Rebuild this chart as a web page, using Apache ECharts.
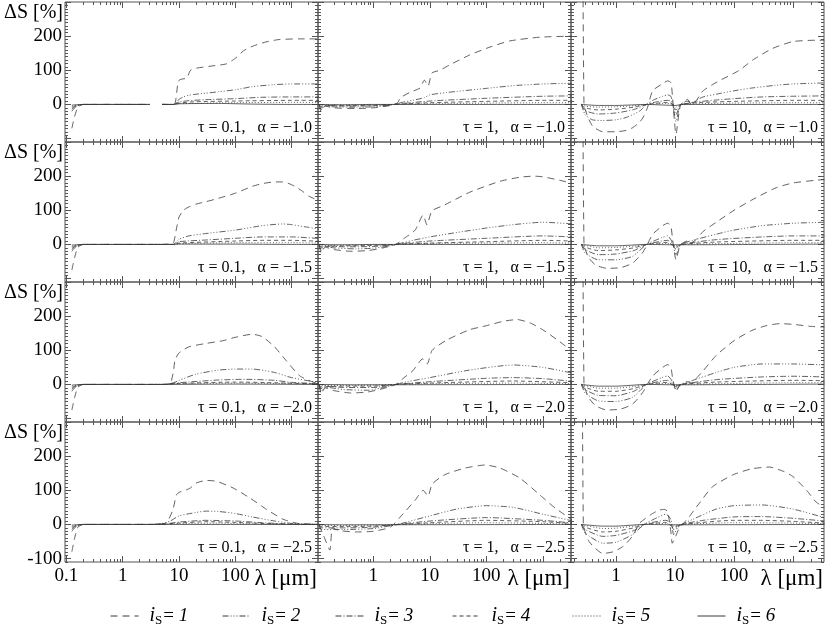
<!DOCTYPE html>
<html>
<head>
<meta charset="utf-8">
<title>Delta S panels</title>
<script src="https://cdn.jsdelivr.net/npm/echarts@6/dist/echarts.min.js"></script>
<style>
  html, body { margin: 0; padding: 0; background: #fff; }
  #chart { width: 830px; height: 625px; }
</style>
</head>
<body>
<div id="chart"></div>
<script>
// ---- data: [lambda (um), delta S (%)] per curve i_S = 1..6 ----
// tau = 0.1
var t01a10 = [
  [[0.125,-70],[0.14,-35],[0.16,-8],[0.2,0],[1,0],[3,0],[4,null],[5,0],[7,0],[8.5,3],[9.7,68],[11,74],[13.7,77],[16,100],[20,106],[40,113],[70,119],[100,135],[140,157],[200,170],[350,183],[600,190],[1400,192],[3400,192]],
  [[0.125,-20],[0.14,-10],[0.17,-2],[0.2,0],[3,0],[4,null],[5,0],[8,0],[9,5],[10,15],[12,22],[15,27],[20,30],[30,33],[50,37],[100,43],[200,52],[500,58],[1000,60],[3400,60]],
  [[0.125,-14],[0.14,-7],[0.17,-2],[0.2,0],[3,0],[4,null],[5,0],[8,0],[10,7],[15,11],[30,14],[100,17],[300,21],[1000,22],[3400,22]],
  [[0.125,-9],[0.15,-3],[0.2,0],[3,0],[4,null],[5,0],[8,0],[10,4],[20,8],[100,10],[1000,12],[3400,12]],
  [[0.125,-5],[0.15,-2],[0.2,0],[3,0],[4,null],[5,0],[8,0],[10,2],[100,5],[1000,6],[3400,6]],
  [[0.125,-2],[0.15,-1],[0.2,0],[3,0],[4,null],[5,0],[8,0],[10,2],[50,3],[200,1],[1000,0],[3400,0]]
];
var t01a15 = [
  [[0.125,-75],[0.14,-38],[0.16,-8],[0.2,0],[1,0],[5,0],[7,2],[8,5],[9,45],[10,80],[12,100],[15,110],[20,118],[30,125],[50,135],[100,150],[200,170],[300,178],[500,183],[700,183],[1000,175],[1500,158],[2000,142],[3400,125]],
  [[0.125,-20],[0.14,-10],[0.17,-2],[0.2,0],[8,0],[10,15],[15,25],[30,32],[100,42],[300,55],[700,60],[1000,58],[2000,50],[3400,43]],
  [[0.125,-14],[0.14,-7],[0.17,-2],[0.2,0],[8,0],[10,8],[30,13],[100,18],[300,22],[1000,22],[3400,17]],
  [[0.125,-9],[0.15,-3],[0.2,0],[8,0],[10,4],[100,10],[300,12],[1000,12],[3400,9]],
  [[0.125,-5],[0.15,-2],[0.2,0],[8,0],[10,2],[100,5],[1000,5],[3400,4]],
  [[0.125,-2],[0.15,-1],[0.2,0],[8,0],[10,1],[100,1],[1000,0],[3400,0]]
];
var t01a20 = [
  [[0.125,-75],[0.14,-38],[0.16,-8],[0.2,0],[1,0],[5,0],[7,3],[8,40],[8.5,71],[10,92],[15,110],[30,120],[60,128],[100,138],[200,147],[300,140],[500,110],[800,70],[1400,25],[2500,6],[3400,3]],
  [[0.125,-20],[0.14,-10],[0.17,-2],[0.2,0],[5,0],[8,5],[10,12],[20,30],[50,42],[100,45],[200,45],[500,35],[1000,20],[3400,4]],
  [[0.125,-14],[0.14,-7],[0.17,-2],[0.2,0],[5,0],[10,5],[50,13],[150,15],[500,12],[1000,6],[3400,2]],
  [[0.125,-9],[0.15,-3],[0.2,0],[5,0],[10,3],[100,7],[500,5],[3400,1]],
  [[0.125,-5],[0.15,-2],[0.2,0],[5,0],[10,2],[100,4],[500,3],[3400,1]],
  [[0.125,-2],[0.15,-1],[0.2,0],[5,0],[100,1],[3400,0]]
];
var t01a25 = [
  [[0.125,-80],[0.14,-40],[0.16,-8],[0.2,0],[1,0],[4,0],[6,5],[7.8,43],[9.1,88],[11,97],[13,100],[16,107],[20,121],[31,129],[47,126],[91,107],[180,78],[360,44],[710,15],[1400,2],[3400,0]],
  [[0.125,-20],[0.14,-10],[0.17,-2],[0.2,0],[3,0],[5,3],[7,10],[10,25],[20,35],[30,39],[50,38],[100,32],[200,22],[500,10],[1000,3],[3400,0]],
  [[0.125,-14],[0.14,-7],[0.17,-2],[0.2,0],[4,0],[6,2],[10,7],[30,12],[100,10],[300,5],[1000,1],[3400,0]],
  [[0.125,-9],[0.15,-3],[0.2,0],[4,0],[10,4],[30,8],[100,6],[300,3],[1000,0],[3400,0]],
  [[0.125,-5],[0.15,-2],[0.2,0],[4,0],[10,2],[50,4],[300,1],[3400,0]],
  [[0.125,-2],[0.15,-1],[0.2,0],[3400,0]]
];
// tau = 1
var t1a10 = [
  [[0.11,-3],[0.12,-22],[0.14,-5],[0.2,-10],[0.5,-12],[1,-10],[2,-3],[2.7,5],[3,19],[4.5,36],[6.7,48],[8,71],[9.3,54],[10.9,92],[15,100],[22,115],[51,145],[116,168],[260,186],[890,197],[3400,200]],
  [[0.11,-2],[0.12,-15],[0.14,-4],[0.2,-7],[0.5,-8],[1,-7],[2,-2],[3,5],[5,12],[8,20],[10,28],[20,35],[100,47],[300,55],[1000,60],[3400,62]],
  [[0.11,-1],[0.12,-10],[0.14,-3],[0.3,-5],[1,-4],[2,-1],[3,2],[10,10],[100,18],[1000,24],[3400,25]],
  [[0.11,-1],[0.12,-6],[0.15,-2],[0.3,-3],[1,-2],[3,1],[10,5],[100,9],[1000,12],[3400,12]],
  [[0.11,0],[0.12,-3],[0.3,-1],[1,-1],[3,0],[10,2],[100,4],[1000,5],[3400,5]],
  [[0.11,0],[0.3,-1],[1,0],[3400,0]]
];
var t1a15 = [
  [[0.11,-3],[0.12,-25],[0.14,-8],[0.2,-15],[0.4,-20],[0.8,-18],[1.5,-10],[2.5,0],[3.6,19],[5.5,42],[7.6,86],[8.9,57],[10.9,98],[18,115],[51,153],[175,185],[400,197],[700,200],[1000,198],[2000,188],[3400,178]],
  [[0.11,-2],[0.12,-18],[0.14,-6],[0.2,-10],[0.5,-13],[1,-11],[2,-4],[3,3],[5,12],[10,22],[30,35],[100,48],[300,58],[1000,65],[3400,60]],
  [[0.11,-1],[0.12,-10],[0.14,-4],[0.3,-7],[1,-6],[2,-2],[3,2],[10,10],[100,18],[1000,25],[3400,22]],
  [[0.11,-1],[0.12,-6],[0.3,-4],[1,-3],[3,1],[10,4],[100,8],[1000,12],[3400,10]],
  [[0.11,0],[0.12,-3],[0.3,-2],[1,-1],[3,0],[10,3],[100,4],[1000,5],[3400,4]],
  [[0.11,0],[0.3,-1],[1,0],[3400,0]]
];
var t1a20 = [
  [[0.11,-3],[0.12,-28],[0.14,-10],[0.2,-18],[0.4,-25],[0.8,-22],[1.5,-12],[2.5,0],[3.5,20],[5,40],[7.5,75],[9,60],[11,100],[20,130],[50,160],[100,172],[200,185],[350,190],[600,180],[1000,160],[2000,125],[3400,95]],
  [[0.11,-2],[0.12,-20],[0.14,-8],[0.3,-15],[0.8,-17],[1.5,-9],[2.5,0],[4,8],[10,20],[50,42],[300,57],[1000,50],[3400,33]],
  [[0.11,-1],[0.12,-12],[0.14,-5],[0.3,-9],[1,-9],[2.5,0],[10,8],[100,18],[300,20],[1000,17],[3400,9]],
  [[0.11,-1],[0.12,-7],[0.3,-5],[1,-5],[2.5,0],[10,4],[300,10],[3400,5]],
  [[0.11,0],[0.12,-3],[0.3,-3],[1,-2],[2.5,0],[10,2],[300,4],[3400,2]],
  [[0.11,0],[0.5,-1],[3400,0]]
];
var t1a25 = [
  [[0.11,-3],[0.13,-30],[0.17,-75],[0.19,-10],[0.25,-18],[0.5,-22],[1,-20],[2,-8],[3,22],[5.5,71],[7.6,100],[9.3,83],[11,118],[18,145],[42,165],[95,174],[175,165],[390,136],[890,86],[1650,48],[3400,12]],
  [[0.11,-2],[0.12,-15],[0.3,-15],[1,-12],[2,-4],[3,2],[10,25],[30,45],[100,55],[300,50],[1000,30],[3400,10]],
  [[0.11,-1],[0.12,-10],[0.3,-10],[1,-8],[2,-2],[3,1],[10,10],[100,20],[1000,12],[3400,4]],
  [[0.11,-1],[0.12,-6],[0.3,-6],[1,-5],[3,0],[10,5],[100,12],[1000,8],[3400,3]],
  [[0.11,0],[0.12,-3],[0.3,-3],[1,-2],[3,0],[10,2],[100,5],[1000,3],[3400,1]],
  [[0.11,0],[0.3,-1],[3400,0]]
];
// tau = 10
var t10a10 = [
  [[0.26,1500],[0.287,0],[0.35,-45],[0.41,-65],[0.6,-80],[1,-80],[1.5,-76],[1.92,-68],[2.4,-55],[2.84,-40],[3.44,-8],[4.19,40],[6.2,61],[7.5,69],[8.55,64],[9.1,20],[10.4,-87],[11.8,-20],[12.6,0],[16.4,15],[18.7,0],[22.7,10],[29.5,39],[49.5,64],[123,100],[207,130],[450,164],[990,184],[2450,188],[3400,188]],
  [[0.26,0],[0.3,-30],[0.4,-45],[0.6,-47],[1,-45],[1.5,-38],[2.5,-20],[3.3,0],[4.2,12],[6.2,24],[7.5,28],[8.5,24],[9.1,5],[10.4,-50],[11.8,-10],[12.6,0],[16,10],[19,5],[23,12],[30,22],[50,30],[100,40],[200,48],[500,56],[1000,60],[3400,63]],
  [[0.26,0],[0.3,-18],[0.5,-28],[1,-25],[2,-15],[3.3,0],[5,8],[7.5,12],[8.5,10],[9.1,2],[10.4,-30],[12,-5],[13,0],[20,6],[50,13],[100,17],[300,22],[1000,24],[3400,25]],
  [[0.26,0],[0.3,-10],[0.5,-16],[1,-14],[2,-8],[3.3,0],[7.5,6],[9.1,1],[10.4,-16],[12.6,0],[30,6],[100,9],[1000,12],[3400,12]],
  [[0.26,0],[0.3,-5],[0.5,-8],[1,-7],[2,-4],[3.3,0],[7.5,3],[9.1,0],[10.4,-8],[12.6,0],[100,4],[1000,5],[3400,5]],
  [[0.26,0],[0.5,-3],[1,-3],[3.3,0],[10.4,-3],[12.6,0],[3400,0]]
];
var t10a15 = [
  [[0.26,1500],[0.287,0],[0.35,-40],[0.45,-60],[0.7,-70],[1.2,-68],[1.9,-55],[2.8,-25],[3.4,0],[4.2,30],[6.2,55],[7.5,62],[8.5,55],[9.1,15],[10.4,-45],[11.8,-10],[12.6,0],[16,10],[19,5],[23,15],[30,38],[50,65],[100,100],[200,130],[500,165],[1000,180],[2450,188],[3400,190]],
  [[0.26,0],[0.3,-25],[0.5,-45],[1,-45],[1.9,-35],[3.3,0],[6,20],[7.5,25],[9.1,5],[10.4,-30],[12.6,0],[20,12],[50,30],[100,42],[300,55],[1000,62],[3400,65]],
  [[0.26,0],[0.3,-15],[0.5,-30],[1,-28],[2,-18],[3.3,0],[7.5,12],[9.1,2],[10.4,-15],[12.6,0],[50,14],[300,22],[1000,25],[3400,25]],
  [[0.26,0],[0.3,-8],[0.5,-18],[1,-16],[2,-10],[3.3,0],[7.5,6],[10.4,-8],[12.6,0],[50,7],[1000,12],[3400,12]],
  [[0.26,0],[0.5,-10],[1,-9],[2,-5],[3.3,0],[7.5,3],[10.4,-4],[12.6,0],[1000,5],[3400,5]],
  [[0.26,0],[0.5,-4],[1,-4],[3.3,0],[10.4,-1],[3400,1]]
];
var t10a20 = [
  [[0.26,1500],[0.287,0],[0.35,-40],[0.45,-62],[0.7,-75],[1.2,-72],[1.9,-58],[2.8,-25],[3.4,0],[4.2,25],[6.2,50],[7.5,58],[8.5,50],[9.1,20],[10.4,-20],[11.8,-5],[12.6,0],[16,8],[19,5],[23,18],[30,40],[50,85],[100,128],[200,158],[350,172],[600,178],[1000,176],[2000,170],[3400,168]],
  [[0.26,0],[0.3,-25],[0.5,-48],[1,-50],[1.9,-38],[3.3,0],[6,20],[7.5,25],[9.1,8],[10.4,-15],[12.6,0],[20,12],[50,35],[100,50],[300,60],[1000,60],[3400,57]],
  [[0.26,0],[0.3,-15],[0.5,-32],[1,-33],[2,-20],[3.3,0],[7.5,12],[9.1,3],[10.4,-8],[12.6,0],[50,14],[300,22],[1000,24],[3400,22]],
  [[0.26,0],[0.3,-8],[0.5,-20],[1,-20],[2,-12],[3.3,0],[7.5,6],[10.4,-5],[12.6,0],[50,7],[1000,12],[3400,11]],
  [[0.26,0],[0.5,-11],[1,-11],[2,-6],[3.3,0],[7.5,3],[10.4,-3],[12.6,0],[1000,5],[3400,5]],
  [[0.26,0],[0.5,-5],[1,-5],[3.3,0],[10.4,-1],[3400,1]]
];
var t10a25 = [
  [[0.26,1500],[0.28,0],[0.35,-50],[0.6,-85],[0.9,-80],[1.3,-65],[1.9,-35],[2.5,3],[4,30],[5.4,42],[6.6,44],[7.5,38],[8.5,-20],[9,-55],[10,-40],[11.5,-15],[13.5,0],[17.5,23],[25.8,62],[43,110],[95,145],[200,163],[400,168],[700,155],[1000,140],[1700,100],[2450,66],[3400,50]],
  [[0.26,0],[0.3,-25],[0.6,-55],[1,-52],[1.9,-30],[3,0],[5,20],[7,30],[8.5,15],[9.5,-30],[11,-10],[13,0],[20,15],[50,45],[100,55],[300,57],[1000,45],[3400,20]],
  [[0.26,0],[0.3,-15],[0.6,-35],[1,-32],[2,-18],[3,0],[7,12],[8.5,5],[9.5,-15],[13,0],[30,12],[100,22],[300,23],[1000,18],[3400,10]],
  [[0.26,0],[0.3,-8],[0.6,-22],[1,-20],[2,-10],[3,0],[7,6],[9.5,-8],[13,0],[100,12],[300,12],[1000,9],[3400,4]],
  [[0.26,0],[0.6,-12],[1,-11],[2,-5],[3,0],[7,3],[9.5,-4],[13,0],[100,5],[1000,4],[3400,2]],
  [[0.26,0],[0.6,-5],[1,-5],[3,0],[9.5,-1],[3400,0]]
];

var panels = [
  [t01a10, t1a10, t10a10],
  [t01a15, t1a15, t10a15],
  [t01a20, t1a20, t10a20],
  [t01a25, t1a25, t10a25]
];
var tauText = ['0.1', '1', '10'];
var alphaText = ['\u22121.0', '\u22121.5', '\u22122.0', '\u22122.5'];
var curveNames = ['iS=1', 'iS=2', 'iS=3', 'iS=4', 'iS=5', 'iS=6'];
var xExtent = [[0.0944, 2950], [0.105, 3150], [0.173, 3350]];
var yExtent = [-110, 300];
var xLabelVals = [[0.1, 1, 10, 100], [1, 10, 100], [1, 10, 100]];
var yLabelVals = [0, 100, 200];
var yLabelValsBottom = [-100, 0, 100, 200];
var yMajorTicks = [-100, 0, 100, 200, 300];

(function () {
  // ---- layout / style ----
  var SERIF = '"Liberation Serif", "DejaVu Serif", "Times New Roman", serif';
  var AX = '#555';
  var LINE = '#3a3a3a';
  var dashes = [[7, 5], [6, 2, 1, 2, 1, 2, 1, 2], [6, 2, 1, 2], [4, 3], [1, 2], 'solid'];
  var GL = 65, GT = 2, GW = 253, GH = 140;
  var log10 = function (v) { return Math.log10(v); };

  // minor ticks: 2..9 x 10^n on the log axis, every 10 % on the y axis
  var xMinor = [];
  for (var n = -2; n <= 3; n++) for (var k = 2; k <= 9; k++) xMinor.push(log10(k * Math.pow(10, n)));
  var xMajor = [-2, -1, 0, 1, 2, 3];
  var yMinor = [];
  for (var v = yExtent[0]; v <= yExtent[1]; v += 10) yMinor.push(v);

  function mkX(gi, c, pos, ticks, len, labels) {
    return {
      type: 'value', gridIndex: gi, position: pos,
      min: log10(xExtent[c][0]), max: log10(xExtent[c][1]),
      axisLine: { show: false, onZero: false }, splitLine: { show: false },
      axisTick: { show: true, inside: true, length: len, customValues: ticks, lineStyle: { color: AX } },
      axisLabel: labels ? {
        show: true, customValues: labels.map(log10), margin: 5,
        color: '#000', fontFamily: SERIF, fontSize: 19,
        formatter: function (val) { return String(+Math.pow(10, val).toPrecision(3)); }
      } : { show: false }
    };
  }
  function mkY(gi, pos, ticks, len, labels) {
    return {
      type: 'value', gridIndex: gi, position: pos, min: yExtent[0], max: yExtent[1],
      axisLine: { show: false, onZero: false }, splitLine: { show: false },
      axisTick: { show: true, inside: true, length: len, customValues: ticks, lineStyle: { color: AX } },
      axisLabel: labels ? { show: true, customValues: labels, margin: 3, color: '#000', fontFamily: SERIF, fontSize: 19 } : { show: false }
    };
  }

  var grids = [], xAxes = [], yAxes = [], series = [], graphics = [];
  for (var r = 0; r < 4; r++) {
    for (var c = 0; c < 3; c++) {
      var gi = r * 3 + c, gLeft = GL + c * GW, gTop = GT + r * GH, base = gi * 4;
      grids.push({ left: gLeft, top: gTop, width: GW, height: GH, show: true,
                   borderColor: AX, borderWidth: 1, outerBoundsMode: 'none' });
      xAxes.push(mkX(gi, c, 'bottom', xMajor, 6, r === 3 ? xLabelVals[c] : null));
      xAxes.push(mkX(gi, c, 'bottom', xMinor, 3, null));
      xAxes.push(mkX(gi, c, 'top', xMajor, 6, null));
      xAxes.push(mkX(gi, c, 'top', xMinor, 3, null));
      yAxes.push(mkY(gi, 'left', yMajorTicks, 6, c === 0 ? (r === 3 ? yLabelValsBottom : yLabelVals) : null));
      yAxes.push(mkY(gi, 'left', yMinor, 3, null));
      yAxes.push(mkY(gi, 'right', yMajorTicks, 6, null));
      yAxes.push(mkY(gi, 'right', yMinor, 3, null));

      var curves = panels[r][c];
      for (var s = 0; s < 6; s++) {
        series.push({
          type: 'line', name: curveNames[s], xAxisIndex: base, yAxisIndex: base,
          data: curves[s].map(function (p) { return [log10(p[0]), p[1]]; }),
          symbol: 'none', smooth: 0.2, silent: true,
          lineStyle: { color: LINE, width: 0.8, type: dashes[s] },
          itemStyle: { color: LINE }
        });
      }
      graphics.push({
        type: 'text', silent: true, x: gLeft + GW - 6, y: gTop + GH - 14,
        style: { text: '\u03c4 = ' + tauText[c] + ',\u2002 \u03b1 = ' + alphaText[r], fill: '#000',
                 font: '16px ' + SERIF, align: 'right', verticalAlign: 'middle' }
      });
    }
    graphics.push({
      type: 'text', silent: true, x: GL - 2, y: GT + r * GH + 11,
      style: { text: '\u0394S [%]', fill: '#000', font: '20px ' + SERIF, align: 'right', verticalAlign: 'middle' }
    });
  }
  for (var c2 = 0; c2 < 3; c2++) {
    graphics.push({
      type: 'text', silent: true, x: GL + c2 * GW + GW - 1, y: GT + 4 * GH + 17,
      style: { text: '\u03bb [\u03bcm]', fill: '#000', font: '23px ' + SERIF, align: 'right', verticalAlign: 'middle' }
    });
  }

  var legendLeft = [110, 222, 335, 452, 572, 697];
  var legends = curveNames.map(function (name, i) {
    return {
      data: [name], left: legendLeft[i], top: 606, padding: 0, itemWidth: 28, itemHeight: 14,
      itemStyle: { opacity: 0 }, lineStyle: { width: 1 },
      formatter: function (nm) { return '{i|i}{s|S}{e|= }{n|' + nm.slice(-1) + '}'; },
      textStyle: {
        color: '#000', fontFamily: SERIF, fontSize: 19,
        rich: {
          i: { fontFamily: SERIF, fontStyle: 'italic', fontSize: 20, padding: [0, 0, 0, 6] },
          s: { fontFamily: SERIF, fontSize: 13, padding: [9, 1, 0, 0] },
          e: { fontFamily: SERIF, fontSize: 19 },
          n: { fontFamily: SERIF, fontStyle: 'italic', fontSize: 19 }
        }
      }
    };
  });

  var chart = echarts.init(document.getElementById('chart'));
  chart.setOption({
    animation: false,
    backgroundColor: '#fff',
    grid: grids,
    xAxis: xAxes,
    yAxis: yAxes,
    legend: legends,
    series: series,
    graphic: graphics
  });
})();
</script>
</body>
</html>
